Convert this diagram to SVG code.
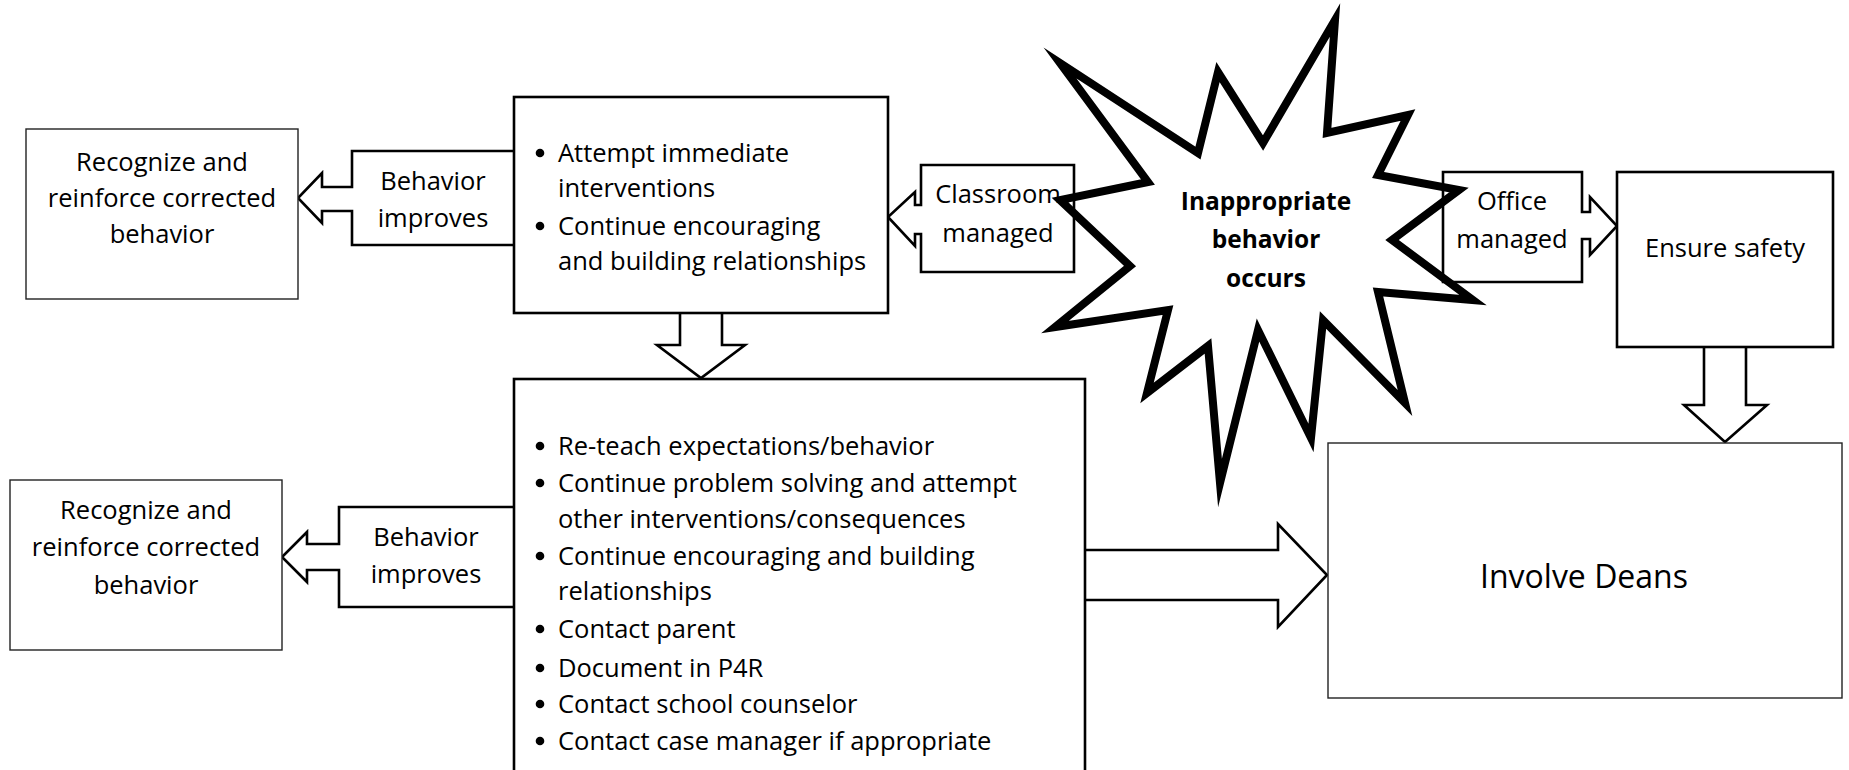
<svg xmlns="http://www.w3.org/2000/svg" width="1849" height="770" viewBox="0 0 1849 770">
<style>
text{font-family:"Open Sans","Liberation Sans",sans-serif;font-size:25.5px;fill:#000}
.c{text-anchor:middle}
.b{font-weight:bold;font-size:24.5px}
.big{font-size:32px}
.thin{fill:#fff;stroke:#222;stroke-width:1.4}
.thick{fill:#fff;stroke:#000;stroke-width:2.6;stroke-linejoin:miter;stroke-miterlimit:10}
.star{fill:none;stroke:#000;stroke-width:8;stroke-linejoin:miter;stroke-miterlimit:30}
</style>
<rect width="1849" height="770" fill="#fff"/>

<g id="connectors">
  <path id="behavior-improves-1" class="thick" d="M514,151 L352,151 L352,187 L322,187 L322,173 L298,198 L322,223 L322,211 L352,211 L352,245 L514,245"/>
  <path id="behavior-improves-2" class="thick" d="M514,507 L339,507 L339,544 L307,544 L307,532 L282,557 L307,582 L307,570 L339,570 L339,607 L514,607"/>
  <path id="down-arrow-1" class="thick" d="M680,313 L680,345 L657,345 L701,378 L745,345 L722,345 L722,313"/>
  <path id="right-arrow-deans" class="thick" d="M1085,550 L1278,550 L1278,524 L1327,575 L1278,627 L1278,600 L1085,600"/>
  <path id="classroom-managed" class="thick" d="M921,165 L1074,165 L1074,272 L921,272 L921,234 L915,234 L915,246 L888,217 L915,192 L915,205 L921,205 Z"/>
  <path id="office-managed" class="thick" d="M1443,172 L1582,172 L1582,212 L1590,212 L1590,197 L1617,226 L1590,255 L1590,239 L1582,239 L1582,282 L1443,282 Z"/>
  <path id="down-arrow-2" class="thick" d="M1704,347 L1704,405 L1684,405 L1725,442 L1767,405 L1746,405 L1746,347"/>
  <text class="c" x="433" y="190">Behavior</text>
  <text class="c" x="433" y="227">improves</text>
  <text class="c" x="426" y="546">Behavior</text>
  <text class="c" x="426" y="583">improves</text>
  <text class="c" x="998" y="203">Classroom</text>
  <text class="c" x="998" y="242">managed</text>
  <text class="c" x="1512" y="210">Office</text>
  <text class="c" x="1512" y="248">managed</text>
</g>

<g id="recognize-1">
  <rect class="thin" x="26" y="129" width="272" height="170"/>
  <text class="c" x="162" y="171">Recognize and</text>
  <text class="c" x="162" y="207">reinforce corrected</text>
  <text class="c" x="162" y="243">behavior</text>
</g>

<g id="recognize-2">
  <rect class="thin" x="10" y="480" width="272" height="170"/>
  <text class="c" x="146" y="519">Recognize and</text>
  <text class="c" x="146" y="556">reinforce corrected</text>
  <text class="c" x="146" y="594">behavior</text>
</g>

<g id="immediate-interventions">
  <rect class="thick" x="514" y="97" width="374" height="216"/>
  <circle cx="540" cy="153" r="4.3"/>
  <circle cx="540" cy="226" r="4.3"/>
  <text x="558" y="162">Attempt immediate</text>
  <text x="558" y="197">interventions</text>
  <text x="558" y="235">Continue encouraging</text>
  <text x="558" y="270">and building relationships</text>
</g>

<g id="follow-up-actions">
  <rect class="thick" x="514" y="379" width="571" height="420"/>
  <circle cx="540" cy="446" r="4.3"/>
  <circle cx="540" cy="483" r="4.3"/>
  <circle cx="540" cy="556" r="4.3"/>
  <circle cx="540" cy="629" r="4.3"/>
  <circle cx="540" cy="668" r="4.3"/>
  <circle cx="540" cy="704" r="4.3"/>
  <circle cx="540" cy="741" r="4.3"/>
  <text x="558" y="455">Re-teach expectations/behavior</text>
  <text x="558" y="492">Continue problem solving and attempt</text>
  <text x="558" y="528">other interventions/consequences</text>
  <text x="558" y="565">Continue encouraging and building</text>
  <text x="558" y="600">relationships</text>
  <text x="558" y="638">Contact parent</text>
  <text x="558" y="677">Document in P4R</text>
  <text x="558" y="713">Contact school counselor</text>
  <text x="558" y="750">Contact case manager if appropriate</text>
</g>

<g id="inappropriate-behavior">
  <polygon class="star" points="1335,20 1327,133 1408,115 1378,175 1459,190 1392,240 1473,300 1378,292 1405,403 1323,320 1311,438 1258,330 1220,483 1208,346 1147,393 1168,310 1055,327 1130,266 1060,200 1148,182 1060,63 1198,153 1218,72 1263,143"/>
  <text class="c b" x="1266" y="210">Inappropriate</text>
  <text class="c b" x="1266" y="248">behavior</text>
  <text class="c b" x="1266" y="287">occurs</text>
</g>

<g id="ensure-safety">
  <rect class="thick" x="1617" y="172" width="216" height="175"/>
  <text class="c" x="1725" y="257">Ensure safety</text>
</g>

<g id="involve-deans">
  <rect class="thin" x="1328" y="443" width="514" height="255"/>
  <text class="c big" x="1584" y="588">Involve Deans</text>
</g>
</svg>
